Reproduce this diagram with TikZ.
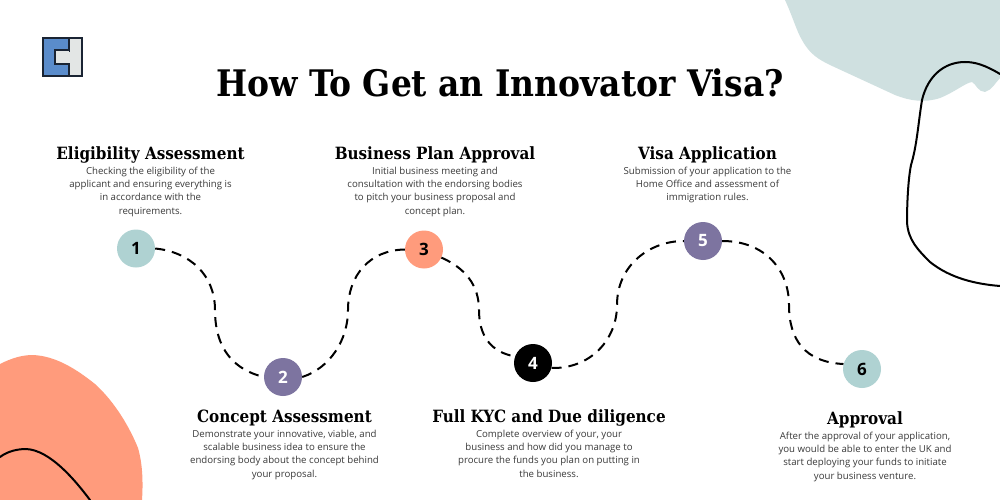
\documentclass[tikz,border=0pt]{standalone}
\usepackage{fontspec}
\setmainfont{Open Sans}
\newfontfamily\headfont{DejaVu Serif Condensed}
\definecolor{tealblob}{HTML}{CFE0E0}
\definecolor{orangeblob}{HTML}{FF9B7C}
\definecolor{stepteal}{HTML}{AFD2D2}
\definecolor{steppurple}{HTML}{7D74A0}
\definecolor{bodygrey}{HTML}{3A3A3A}
\definecolor{logoblue}{HTML}{5A8CCB}
\definecolor{logogrey}{HTML}{E3E6E5}
\definecolor{logodark}{HTML}{1A2433}
\tikzset{
 stepdot/.style={circle,minimum size=38pt,inner sep=0pt,font=\fontsize{17}{17}\selectfont\bfseries},
 darknum/.style={stepdot,text=black},
 lightnum/.style={stepdot,text=white},
 headtxt/.style={font=\headfont\bfseries\fontsize{16.9}{20}\selectfont,text=black,inner sep=0pt,anchor=base},
 bodytxt/.style={font=\fontsize{9.65}{13.4}\selectfont,text=bodygrey,align=center,inner sep=0pt,anchor=north},
 link/.style={draw=black,line width=2pt,dash pattern=on 10pt off 7pt},
 wire/.style={draw=black,line width=2pt,line cap=round}
}
\begin{document}
\begin{tikzpicture}[x=1pt,y=-1pt]
\useasboundingbox (0,0) rectangle (1000,500);
\fill[white] (0,0) rectangle (1000,500);
% blobs
\fill[tealblob] (785,0) .. controls (792,15) and (797,32) .. (802,40) .. controls (810,55) and (820,60) .. (830,65) -- (895,95) .. controls (910,101) and (925,103) .. (940,98) .. controls (955,92) and (965,83) .. (972,82) .. controls (976,84) and (978,92) .. (985,92) .. controls (992,90) and (996,82) .. (1000,78) -- (1000,0) -- cycle;
\draw[wire] (1000,74) .. controls (985,65) and (975,62) .. (965,62) .. controls (945,62) and (928,75) .. (922,100) .. controls (918,125) and (917,145) .. (911,165) .. controls (908,180) and (907,205) .. (907,222) .. controls (908,240) and (918,250) .. (930,262) .. controls (950,278) and (975,284) .. (1000,286);
\fill[orangeblob] (0,364) .. controls (12,358) and (22,355) .. (33,355) .. controls (55,356) and (75,368) .. (95,384) .. controls (115,402) and (130,428) .. (138,448) .. controls (143,465) and (143,485) .. (142,500) -- (0,500) -- cycle;
\draw[wire] (0,457) .. controls (8,451) and (18,449) .. (26,449) .. controls (50,450) and (75,480) .. (90,500);
% logo
\fill[logoblue,draw=logodark,line width=2pt] (42.5,38.5) rectangle (69,76.5);
\fill[logogrey,draw=logodark,line width=2pt] (69,38.5) rectangle (81.5,76.5);
\fill[logogrey,draw=logodark,line width=2pt] (69,50.5) -- (55,50.5) -- (55,64) -- (69,64);
\fill[logogrey] (67,52) rectangle (70.5,63);
% title
\node[font=\headfont\bfseries\fontsize{36.6}{40}\selectfont,inner sep=0pt,anchor=base] (title) at (500,96) {How To Get an Innovator Visa?};
% step circles
\node[darknum,fill=stepteal] (n1) at (136,248.5) {1};
\node[lightnum,fill=steppurple] (n2) at (283,377) {2};
\node[darknum,fill=orangeblob] (n3) at (424,249.5) {3};
\node[lightnum,fill=black] (n4) at (533,363) {4};
\node[lightnum,fill=steppurple] (n5) at (703,241) {5};
\node[darknum,fill=stepteal] (n6) at (862,369) {6};
% mid points of the links
\coordinate (m12) at (215,310);
\coordinate (m23) at (348,310);
\coordinate (m34) at (479,310);
\coordinate (m45) at (617,305);
\coordinate (m56) at (789,305);
\draw[link] (n1.east) .. controls (190,252) and (215,275) .. (m12) .. controls (215,350) and (235,370) .. (n2.west);
\draw[link] (n2.east) .. controls (330,368) and (348,340) .. (m23) .. controls (348,275) and (370,250) .. (n3.west);
\draw[link] (n3.-25) .. controls (465,268) and (479,285) .. (m34) .. controls (479,335) and (490,352) .. (n4.160);
\draw[link] (n4.-15) .. controls (590,369) and (617,340) .. (m45) .. controls (617,265) and (650,241) .. (n5.west);
\draw[link] (n5.east) .. controls (765,241) and (789,270) .. (m56) .. controls (789,340) and (805,362) .. (n6.165);
% texts
\node[headtxt] (h1) at (150.5,159) {Eligibility Assessment};
\node[bodytxt] (b1) at (150.5,166.5) {Checking the eligibility of the\\applicant and ensuring everything is\\in accordance with the\\requirements.};
\node[headtxt] (h3) at (435,159) {Business Plan Approval};
\node[bodytxt] (b3) at (435,166.5) {Initial business meeting and\\consultation with the endorsing bodies\\to pitch your business proposal and\\concept plan.};
\node[headtxt] (h5) at (707.5,159) {Visa Application};
\node[bodytxt] (b5) at (707.5,166.5) {Submission of your application to the\\Home Office and assessment of\\immigration rules.};
\node[headtxt] (h2) at (284.5,422) {Concept Assessment};
\node[bodytxt] (b2) at (284.5,429.5) {Demonstrate your innovative, viable, and\\scalable business idea to ensure the\\endorsing body about the concept behind\\your proposal.};
\node[headtxt] (h4) at (549,422) {Full KYC and Due diligence};
\node[bodytxt] (b4) at (549,429.5) {Complete overview of your, your\\business and how did you manage to\\procure the funds you plan on putting in\\the business.};
\node[headtxt] (h6) at (865,424) {Approval};
\node[bodytxt] (b6) at (865,431.5) {After the approval of your application,\\you would be able to enter the UK and\\start deploying your funds to initiate\\your business venture.};
\end{tikzpicture}
\end{document}
